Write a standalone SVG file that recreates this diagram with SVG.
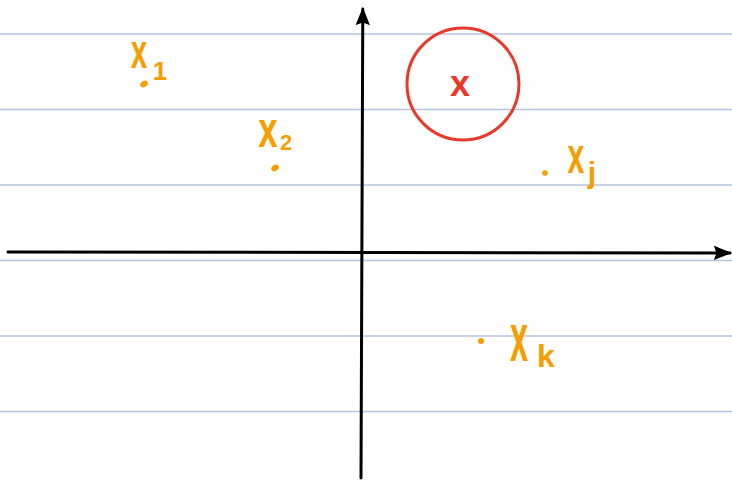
<svg xmlns="http://www.w3.org/2000/svg" width="732" height="481" viewBox="0 0 732 481">
<style>
.rule{stroke:#b6c4dc;stroke-width:1.5}
.axis{stroke:#000;stroke-width:3;fill:none;stroke-linecap:round}
.lbl{fill:#f59e00;font-family:"Liberation Sans",Arial,sans-serif;text-anchor:middle;font-weight:bold}
.dot{fill:#f59e00}
.red{fill:#e8392b;font-family:"Liberation Sans",Arial,sans-serif;text-anchor:middle;font-weight:bold}
</style>
<defs>
<marker id="ah" viewBox="0 0 10 10" refX="9" refY="5" markerWidth="6" markerHeight="6" markerUnits="strokeWidth" orient="auto">
<path d="M0,1 L10,5 L0,9 L1.5,5 Z" fill="#000"/>
</marker>
</defs>
<rect width="732" height="481" fill="#fff"/>
<g id="rules">
<line class="rule" x1="0" y1="34" x2="732" y2="34"/>
<line class="rule" x1="0" y1="109.5" x2="732" y2="109.5"/>
<line class="rule" x1="0" y1="185" x2="732" y2="185"/>
<line class="rule" x1="0" y1="260.5" x2="732" y2="260.5"/>
<line class="rule" x1="0" y1="336" x2="732" y2="336"/>
<line class="rule" x1="0" y1="411.5" x2="732" y2="411.5"/>
</g>
<g id="connectors">
<path class="axis" d="M8,252 L730,253" marker-end="url(#ah)"/>
<path class="axis" d="M361,478 L362.8,9" marker-end="url(#ah)"/>
</g>
<g id="target">
<circle cx="463" cy="84" r="56" fill="none" stroke="#e8392b" stroke-width="3"/>
<text class="red" x="460" y="96" font-size="36">x</text>
</g>
<g id="x1">
<ellipse class="dot" cx="144" cy="84" rx="4" ry="3" transform="rotate(-30 144 84)"/>
<text class="lbl" font-size="48" transform="translate(139 68) scale(0.62 1)">x</text>
<text class="lbl" x="160" y="80" font-size="26">1</text>
</g>
<g id="x2">
<ellipse class="dot" cx="275" cy="168" rx="4" ry="3" transform="rotate(-30 275 168)"/>
<text class="lbl" font-size="50" transform="translate(268 147) scale(0.7 1)">x</text>
<text class="lbl" x="286" y="150" font-size="22">2</text>
</g>
<g id="xj">
<circle class="dot" cx="545" cy="173" r="2.8"/>
<text class="lbl" font-size="52" transform="translate(576 173) scale(0.58 1)">x</text>
<text class="lbl" x="592" y="183" font-size="30">j</text>
</g>
<g id="xk">
<circle class="dot" cx="481" cy="341" r="3"/>
<text class="lbl" font-size="68" transform="translate(519 361) scale(0.48 1)">x</text>
<text class="lbl" x="546" y="367" font-size="32">k</text>
</g>
</svg>
